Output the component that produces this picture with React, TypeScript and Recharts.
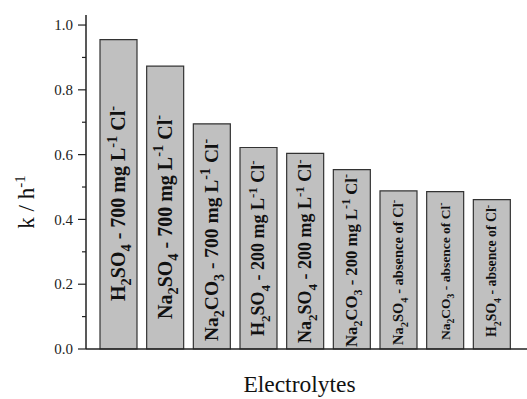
import React from 'react'
import { BarChart, Bar, XAxis, YAxis, Label } from 'recharts'

// electrolyte conditions, with _{} for subscripts and ^{} for superscripts
const electrolytes = [
  'H_{2}SO_{4} - 700 mg L^{-1} Cl^{-}',
  'Na_{2}SO_{4} - 700 mg L^{-1} Cl^{-}',
  'Na_{2}CO_{3} - 700 mg L^{-1} Cl^{-}',
  'H_{2}SO_{4} - 200 mg L^{-1} Cl^{-}',
  'Na_{2}SO_{4} - 200 mg L^{-1} Cl^{-}',
  'Na_{2}CO_{3} - 200 mg L^{-1} Cl^{-}',
  'Na_{2}SO_{4} - absence of Cl^{-}',
  'Na_{2}CO_{3} - absence of Cl^{-}',
  'H_{2}SO_{4} - absence of Cl^{-}',
]
const rateConstants = [0.955, 0.873, 0.695, 0.622, 0.604, 0.554, 0.488, 0.486, 0.461]
const yTicks = [0, 0.1, 0.2, 0.3, 0.4, 0.5, 0.6, 0.7, 0.8, 0.9, 1.0]
const yMax = 1.031

const data = electrolytes.map((name, i) => ({ name, k: rateConstants[i] }))

// label look per bar (font size, gap above the bar bottom)
const labelFont = [20, 20, 19.5, 18, 18, 16.7, 14.5, 13.5, 13.8]
const labelGap = [48, 30, 8, 13, 6, 2, 4, 9, 12]
const SERIF = '"Liberation Serif", "Times New Roman", serif'

type Seg = { text: string; kind: 'n' | 'sub' | 'sup' }

const parseLabel = (s: string): Seg[] => {
  const out: Seg[] = []
  const re = /([_^])\{([^}]*)\}|([^_^]+)/g
  let m: RegExpExecArray | null
  while ((m = re.exec(s))) {
    if (m[3]) out.push({ text: m[3], kind: 'n' })
    else out.push({ text: m[2], kind: m[1] === '_' ? 'sub' : 'sup' })
  }
  return out
}

const renderRich = (segs: Seg[], fs: number) => {
  let shift = 0
  return segs.map((s, i) => {
    const target = s.kind === 'sub' ? fs * 0.3 : s.kind === 'sup' ? -fs * 0.42 : 0
    const dy = target - shift
    shift = target
    return (
      <tspan key={i} dy={dy} fontSize={s.kind === 'n' ? fs : fs * 0.72}>
        {s.text}
      </tspan>
    )
  })
}

const BarText = (props: any) => {
  const { x, y, width, height, index } = props
  const fs = labelFont[index]
  const cx = x + width / 2
  const bottom = y + height - labelGap[index]
  return (
    <g transform={`translate(${cx + fs * 0.33}, ${bottom}) rotate(-90)`}>
      <text x={0} y={0} style={{ fontFamily: SERIF }} fontWeight="bold" fill="#111" textAnchor="start">
        {renderRich(parseLabel(electrolytes[index]), fs)}
      </text>
    </g>
  )
}

const YTick = (props: any) => {
  const { x, y, payload } = props
  const major = Math.round(payload.value * 10) % 2 === 0
  return (
    <g>
      <line x1={x - (major ? 8 : 4)} x2={x} y1={y} y2={y} stroke="#222" strokeWidth={1.2} />
      {major && (
        <text x={x - 13} y={y} dy="0.35em" textAnchor="end" style={{ fontFamily: SERIF }} fontSize={15} fill="#222">
          {payload.value.toFixed(1)}
        </text>
      )}
    </g>
  )
}

const YTitle = (props: any) => {
  const { viewBox } = props
  const cx = viewBox.x + 34
  const cy = viewBox.y + viewBox.height / 2 + 20
  return (
    <text transform={`rotate(-90, ${cx}, ${cy})`} x={cx} y={cy} textAnchor="middle" style={{ fontFamily: SERIF }} fontSize={23} fill="#111">
      <tspan>k / h</tspan>
      <tspan dy={-9} fontSize={15}>-1</tspan>
    </text>
  )
}

const XTitle = (props: any) => {
  const { viewBox } = props
  return (
    <text x={viewBox.x + viewBox.width / 2 - 8} y={viewBox.y + viewBox.height - 7} textAnchor="middle" style={{ fontFamily: SERIF }} fontSize={23.5} fill="#111">
      Electrolytes
    </text>
  )
}

export default function App() {
  return (
    <div style={{ position: 'absolute', left: 0, top: 0, width: 527, height: 399, overflow: 'hidden', background: '#fff', fontFamily: SERIF }}>
      <BarChart width={530} height={399} data={data} margin={{ top: 15, right: 1, bottom: 0, left: 0 }}>
        <XAxis
          dataKey="name"
          height={50}
          padding={{ left: 9, right: 14 }}
          tick={false}
          tickLine={false}
          axisLine={{ stroke: '#222', strokeWidth: 1.5 }}
        >
          <Label content={<XTitle />} />
        </XAxis>
        <XAxis xAxisId="top" orientation="top" dataKey="name" height={0} tick={false} tickLine={false} axisLine={{ stroke: '#555', strokeWidth: 1.5 }} />
        <YAxis
          width={86}
          domain={[0, yMax]}
          ticks={yTicks}
          interval={0}
          tickSize={0}
          tickMargin={0}
          tickLine={false}
          tick={<YTick />}
          axisLine={{ stroke: '#222', strokeWidth: 1.5 }}
        >
          <Label content={<YTitle />} />
        </YAxis>
        <Bar dataKey="k" fill="#c0c0c0" stroke="#333" strokeWidth={1.2} barSize={37} isAnimationActive={false} label={<BarText />} />
      </BarChart>
    </div>
  )
}
